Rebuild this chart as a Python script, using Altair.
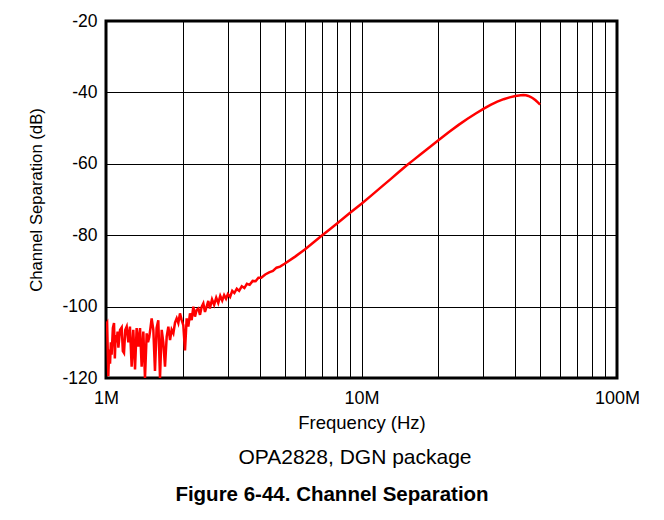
import altair as alt
import pandas as pd

# Frequency in MHz and channel separation in dB
freq_mhz = [
    1.000, 1.010, 1.021, 1.029, 1.037, 1.045, 1.052, 1.064, 1.075, 1.083,
    1.091, 1.101, 1.110, 1.118, 1.135, 1.152, 1.164, 1.176, 1.190, 1.205,
    1.223, 1.241, 1.260, 1.279, 1.299, 1.318, 1.338, 1.359, 1.379, 1.400,
    1.421, 1.443, 1.460, 1.477, 1.493, 1.509, 1.532, 1.555, 1.578, 1.602,
    1.627, 1.652, 1.676, 1.702, 1.728, 1.754, 1.781, 1.807, 1.835, 1.863,
    1.891, 1.919, 1.948, 1.978, 2.007, 2.038, 2.069, 2.100, 2.132, 2.164,
    2.197, 2.230, 2.264, 2.298, 2.333, 2.370, 2.404, 2.440, 2.477, 2.514,
    2.55, 2.60, 2.65, 2.70, 2.75, 2.80, 2.85, 2.90, 2.95, 3.00,
    3.06, 3.12, 3.18, 3.25, 3.32, 3.40, 3.48, 3.56, 3.65, 3.75,
    3.85, 3.95, 4.05, 4.2, 4.35, 4.5, 4.65, 4.8, 5.0, 5.5,
    6.0, 6.5, 7.0, 7.5, 8.0, 9.0, 10.0, 11.0, 12.0, 13.0,
    14.0, 15.0, 16.0, 17.0, 18.0, 20.0, 22.0, 24.0, 26.0, 28.0,
    30.0, 32.0, 34.0, 36.0, 38.0, 40.0, 42.0, 43.0, 44.0, 45.0,
    46.0, 47.0, 48.0, 49.0, 50.0,
]
sep_db = [
    -105.0, -104.5, -119.5, -112.0, -116.0, -110.0, -113.5, -106.0, -104.6, -114.5,
    -108.0, -110.0, -107.0, -111.5, -106.5, -105.8, -112.5, -113.0, -106.5, -105.6,
    -110.0, -105.6, -116.8, -106.5, -117.6, -106.0, -111.2, -106.0, -116.8, -107.0,
    -120.0, -107.5, -110.0, -108.5, -106.0, -103.3, -106.5, -118.0, -106.0, -103.8,
    -120.0, -106.5, -110.0, -116.8, -108.4, -105.6, -109.4, -106.5, -107.5, -104.5,
    -103.3, -104.6, -101.9, -103.8, -105.2, -112.3, -103.3, -105.6, -101.9, -103.8,
    -100.0, -102.8, -100.9, -100.5, -102.3, -100.0, -99.1, -101.5, -100.0, -98.4,
    -100.5, -98.0, -99.5, -97.5, -99.0, -97.0, -98.3, -96.8, -97.8, -96.5,
    -97.3, -95.6, -96.2, -95.0, -95.6, -94.3, -94.8, -93.6, -93.9, -92.8,
    -92.9, -91.9, -91.9, -91.0, -90.4, -90.0, -89.1, -88.8, -88.0, -86.0,
    -84.0, -82.0, -80.1, -78.4, -76.8, -73.8, -71.2, -68.7, -66.4, -64.3,
    -62.3, -60.5, -58.9, -57.4, -56.0, -53.4, -51.1, -49.1, -47.4, -45.9,
    -44.6, -43.5, -42.6, -41.9, -41.4, -41.0, -40.8, -40.75, -40.8, -41.0,
    -41.3, -41.7, -42.2, -42.8, -43.4,
]

x_ticks = [k * 10 ** e for e in (6, 7) for k in range(1, 10)] + [10 ** 8]
y_ticks = [-120, -100, -80, -60, -40, -20]
subtitle = ["OPA2828, DGN package"]
caption = ["Figure 6-44. Channel Separation"]

FONT = "Liberation Sans"

df = pd.DataFrame({"f": [v * 1e6 for v in freq_mhz], "db": sep_db})

x_enc = alt.X(
    "f:Q",
    scale=alt.Scale(type="log", domain=[1e6, 1e8], nice=False),
    axis=alt.Axis(
        values=x_ticks,
        labelExpr="datum.value == 1000000 ? '1M' : datum.value == 10000000 ? '10M' : datum.value == 100000000 ? '100M' : ''",
        title="Frequency (Hz)",
        grid=True, gridColor="black", gridWidth=1, gridOpacity=1,
        ticks=False, domain=False,
        labelFont=FONT, labelFontSize=18, labelColor="black",
        labelPadding=11, labelOverlap=False, labelFlush=False,
        titleFont=FONT, titleFontSize=18.5, titleFontWeight="normal",
        titleColor="black", titlePadding=6,
    ),
)
y_enc = alt.Y(
    "db:Q",
    scale=alt.Scale(domain=[-120, -20], nice=False, zero=False),
    axis=alt.Axis(
        values=y_ticks,
        labelExpr="'' + datum.value",
        title="Channel Separation (dB)",
        grid=True, gridColor="black", gridWidth=1, gridOpacity=1,
        ticks=False, domain=False,
        labelFont=FONT, labelFontSize=17.5, labelColor="black",
        labelPadding=9, labelOverlap=False, labelFlush=False,
        titleFont=FONT, titleFontSize=16.7, titleFontWeight="normal",
        titleColor="black", titlePadding=16,
    ),
)

line = alt.Chart(df).mark_line(color="#ff0000", strokeWidth=2.5, clip=True).encode(
    x=x_enc, y=y_enc
)

sub = alt.Chart(pd.DataFrame({"t": subtitle})).mark_text(
    font=FONT, fontSize=21, color="black", align="center", baseline="middle"
).encode(text="t:N", x=alt.value(249), y=alt.value(437))

cap = alt.Chart(pd.DataFrame({"t": caption})).mark_text(
    font=FONT, fontSize=20.5, fontWeight="bold", color="black", align="center", baseline="middle"
).encode(text="t:N", x=alt.value(226), y=alt.value(474))

chart = (
    alt.layer(line, sub, cap)
    .properties(
        width=511, height=357,
        autosize=alt.AutoSizeParams(type="none"),
        padding={"left": 98, "top": 13, "right": 39, "bottom": 134},
        background="white",
    )
    .configure_view(stroke="black", strokeWidth=3)
)

chart.save("out.html", embed_options={"renderer": "svg", "actions": False})
